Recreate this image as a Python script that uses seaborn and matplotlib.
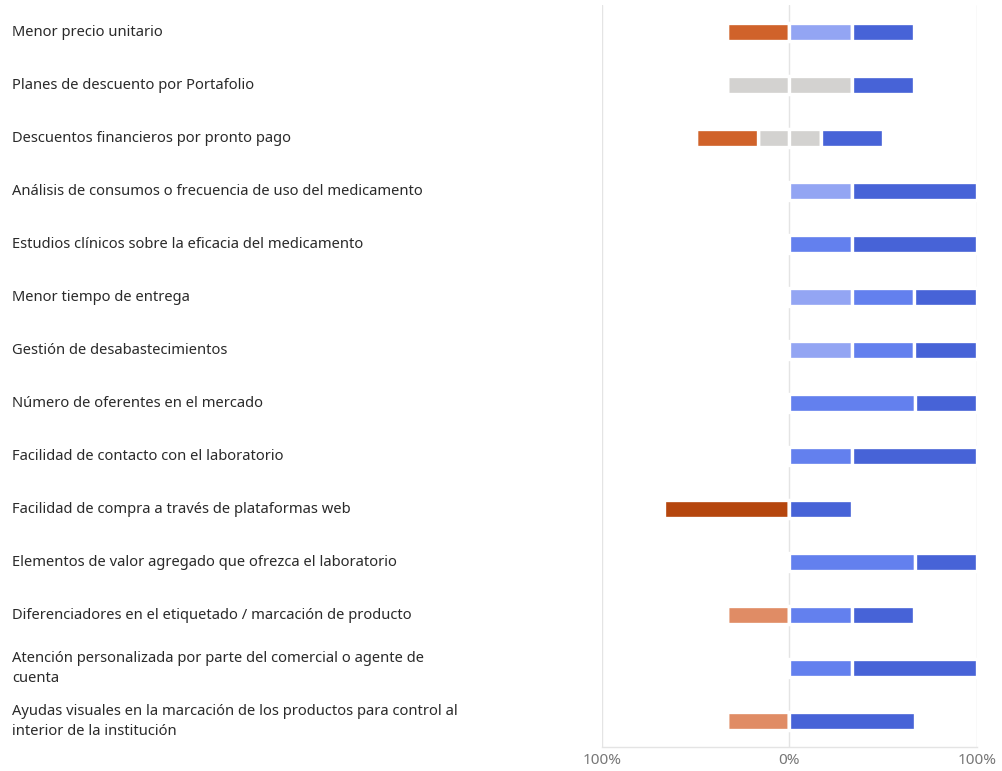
import numpy as np
import matplotlib
matplotlib.use("Agg")
import matplotlib.pyplot as plt
import matplotlib.transforms as mtransforms
import seaborn as sns

# categories (top to bottom)
categories = [
    "Menor precio unitario",
    "Planes de descuento por Portafolio",
    "Descuentos financieros por pronto pago",
    "Análisis de consumos o frecuencia de uso del medicamento",
    "Estudios clínicos sobre la eficacia del medicamento",
    "Menor tiempo de entrega",
    "Gestión de desabastecimientos",
    "Número de oferentes en el mercado",
    "Facilidad de contacto con el laboratorio",
    "Facilidad de compra a través de plataformas web",
    "Elementos de valor agregado que ofrezca el laboratorio",
    "Diferenciadores en el etiquetado / marcación de producto",
    "Atención personalizada por parte del comercial o agente de\ncuenta",
    "Ayudas visuales en la marcación de los productos para control al\ninterior de la institución",
]

# percentages per response level
neg_strong = [0, 0, 0, 0, 0, 0, 0, 0, 0, 66.7, 0, 0, 0, 0]
neg_mid    = [33.3, 0, 33.3, 0, 0, 0, 0, 0, 0, 0, 0, 0, 0, 0]
neg_slight = [0, 0, 0, 0, 0, 0, 0, 0, 0, 0, 0, 33.3, 0, 33.3]
neutral    = [0, 66.7, 33.3, 0, 0, 0, 0, 0, 0, 0, 0, 0, 0, 0]
pos_slight = [33.3, 0, 0, 33.3, 0, 33.3, 33.3, 0, 0, 0, 0, 0, 0, 0]
pos_mid    = [0, 0, 0, 0, 33.3, 33.3, 33.3, 66.7, 33.3, 0, 66.7, 33.3, 33.3, 0]
pos_strong = [33.3, 33.3, 33.3, 66.7, 66.7, 33.3, 33.3, 33.3, 66.7, 33.3, 33.3, 33.3, 66.7, 66.7]

tick_vals = [-100, 0, 100]
tick_labels = ["100%", "0%", "100%"]

colors = {
    "neg_strong": "#B5460E",
    "neg_mid": "#D0622A",
    "neg_slight": "#E08C65",
    "neutral": "#D3D2D0",
    "pos_slight": "#93A5F3",
    "pos_mid": "#6380EE",
    "pos_strong": "#4763D7",
}

sns.set_theme(style="white")
plt.rcParams["font.family"] = ["Noto Sans", "DejaVu Sans"]

fig = plt.figure(figsize=(10.02, 7.71), dpi=100)
ax = fig.add_axes([0.6008, 0.0311, 0.3742, 0.9624])

y = np.arange(len(categories))
h = 0.34
kw = dict(height=h, edgecolor="white", linewidth=2.4, zorder=3)

neu = np.array(neutral)
half = neu / 2

# left side: neutral half, then slight, mid, strong outward
left_edge = -half
ax.barh(y, half, left=left_edge, color=colors["neutral"], **kw)
for vals, key in [(neg_slight, "neg_slight"), (neg_mid, "neg_mid"), (neg_strong, "neg_strong")]:
    v = np.array(vals)
    left_edge = left_edge - v
    ax.barh(y, v, left=left_edge, color=colors[key], **kw)

# right side
right_edge = np.zeros(len(categories))
ax.barh(y, half, left=right_edge, color=colors["neutral"], **kw)
right_edge = right_edge + half
for vals, key in [(pos_slight, "pos_slight"), (pos_mid, "pos_mid"), (pos_strong, "pos_strong")]:
    v = np.array(vals)
    ax.barh(y, v, left=right_edge, color=colors[key], **kw)
    right_edge = right_edge + v

ax.set_xlim(-100, 100)
ax.set_ylim(len(categories) - 0.5, -0.5)

for xv in tick_vals:
    ax.axvline(xv, color="#e4e4e4", lw=1, zorder=1)

ax.set_xticks(tick_vals)
ax.set_xticklabels(tick_labels, color="#777777", fontsize=11)
ax.tick_params(axis="x", length=0, pad=4)
ax.set_yticks([])

for s in ["top", "right", "left"]:
    ax.spines[s].set_visible(False)
ax.spines["bottom"].set_color("#e4e4e4")
ax.spines["bottom"].set_linewidth(1)

trans = mtransforms.blended_transform_factory(fig.transFigure, ax.transData)
for i, label in enumerate(categories):
    ax.text(12 / 1002, i + 0.02, label, transform=trans, ha="left", va="center",
            fontsize=10.6, color="#2a2a2a", linespacing=1.45)

fig.savefig("out.png", dpi=100)
